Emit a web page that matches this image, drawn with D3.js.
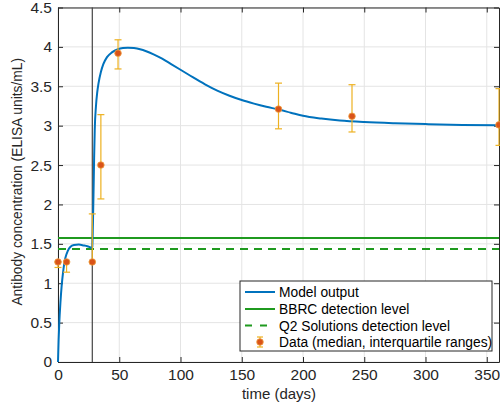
<!DOCTYPE html>
<html>
<head>
<meta charset="utf-8">
<script src="https://cdn.jsdelivr.net/npm/d3@7"></script>
<style>
  body { margin: 0; background: #fff; }
  text { font-family: "Liberation Sans", Arial, sans-serif; }
</style>
</head>
<body>
<div id="chart-area"></div>
<script>
// model curve (time in days, antibody conc.)
var modelTime = [0, 0.5, 1, 2, 3, 4, 5, 6, 8, 10, 13, 17, 21, 24, 27.6,
                 28, 28.5, 29, 29.5, 30, 31, 32, 33, 35, 37, 40, 44, 49, 53, 57,
                 62, 67, 72, 78, 85, 92, 100, 110, 120, 130, 140, 150, 160, 170, 180,
                 190, 200, 215, 230, 250, 275, 300, 330, 360];
var modelConc = [0, 0.28, 0.48, 0.76, 0.97, 1.12, 1.24, 1.32, 1.41, 1.46, 1.485, 1.49, 1.48, 1.47, 1.45,
                 1.46, 1.75, 2.15, 2.6, 2.95, 3.25, 3.42, 3.53, 3.68, 3.78, 3.87, 3.93, 3.97, 3.985, 3.99,
                 3.985, 3.97, 3.945, 3.905, 3.85, 3.785, 3.71, 3.615, 3.525, 3.445, 3.38, 3.325, 3.28, 3.24, 3.205,
                 3.165, 3.125, 3.09, 3.065, 3.045, 3.03, 3.02, 3.01, 3.005];

// data: median and interquartile range
var dataTime = [0, 7, 28, 35, 49, 180, 240, 360];
var dataMedian = [1.27, 1.27, 1.27, 2.5, 3.92, 3.21, 3.12, 3.01];
var dataQ1 = [1.2, 1.14, 1.27, 2.07, 3.72, 2.96, 2.92, 2.75];
var dataQ3 = [1.27, 1.27, 1.88, 3.14, 4.09, 3.54, 3.52, 3.47];

var bbrcLevel = 1.573;
var q2Level = 1.433;
var doseTime = 28;

var xTicks = [0, 50, 100, 150, 200, 250, 300, 350];
var yTicks = [0, 0.5, 1, 1.5, 2, 2.5, 3, 3.5, 4, 4.5];

var legendLabels = ["Model output", "BBRC detection level",
                    "Q2 Solutions detection level", "Data (median, interquartile ranges)"];

var margin = {left: 58, right: 1, top: 7.5, bottom: 50};
var width = 500 - margin.left - margin.right,
    height = 412 - margin.top - margin.bottom;

var blue = "#0072BD", green = "#1f9a1f", orange = "#D95319", yellow = "#EDB120";

var svg = d3.select("#chart-area")
    .append("svg")
      .attr("width", 500)
      .attr("height", 412);

var group = svg.append("g")
    .attr("transform", "translate(" + margin.left + "," + margin.top + ")");

var x = d3.scaleLinear().domain([0, 360]).range([0, width]);
var y = d3.scaleLinear().domain([0, 4.5]).range([height, 0]);

// grid
group.selectAll(".xgrid").data(xTicks).enter()
  .append("line")
    .attr("x1", function(d){ return x(d); })
    .attr("x2", function(d){ return x(d); })
    .attr("y1", 0).attr("y2", height)
    .attr("stroke", "#e4e4e4");
group.selectAll(".ygrid").data(yTicks).enter()
  .append("line")
    .attr("y1", function(d){ return y(d); })
    .attr("y2", function(d){ return y(d); })
    .attr("x1", 0).attr("x2", width)
    .attr("stroke", "#e4e4e4");

// axes
var xAxisCall = d3.axisBottom(x).tickValues(xTicks).tickSizeInner(-5).tickSizeOuter(0).tickPadding(7);
group.append("g")
    .attr("class", "x axis")
    .attr("transform", "translate(0," + height + ")")
    .call(xAxisCall);
group.append("g")
    .attr("class", "x axis")
    .call(d3.axisTop(x).tickValues(xTicks).tickSizeInner(-5).tickSizeOuter(0).tickFormat(""));

var yAxisCall = d3.axisLeft(y).tickValues(yTicks).tickSizeInner(-5).tickSizeOuter(0).tickPadding(6)
    .tickFormat(function(d){ return d; });
group.append("g")
    .attr("class", "y axis")
    .call(yAxisCall);
group.append("g")
    .attr("class", "y axis")
    .attr("transform", "translate(" + width + ",0)")
    .call(d3.axisRight(y).tickValues(yTicks).tickSizeInner(-5).tickSizeOuter(0).tickFormat(""));

group.selectAll(".axis path").attr("stroke", "#262626");
group.selectAll(".axis line").attr("stroke", "#262626");
group.selectAll(".axis text")
    .attr("font-size", "15.5px")
    .attr("fill", "#262626");

// labels
group.append("text")
    .attr("x", width / 2 + 0.5)
    .attr("y", height + 37)
    .attr("font-size", "15px")
    .attr("text-anchor", "middle")
    .attr("fill", "#262626")
    .text("time (days)");
group.append("text")
    .attr("x", -(height / 2) + 3)
    .attr("y", -36)
    .attr("font-size", "13.8px")
    .attr("text-anchor", "middle")
    .attr("fill", "#262626")
    .attr("transform", "rotate(-90)")
    .text("Antibody concentration (ELISA units/mL)");

// detection levels
group.append("line")
    .attr("x1", 0).attr("x2", width)
    .attr("y1", y(bbrcLevel)).attr("y2", y(bbrcLevel))
    .attr("stroke", green).attr("stroke-width", 2);
group.append("line")
    .attr("x1", 0).attr("x2", width)
    .attr("y1", y(q2Level)).attr("y2", y(q2Level))
    .attr("stroke", green).attr("stroke-width", 2)
    .attr("stroke-dasharray", "8,6");

// second dose marker
group.append("line")
    .attr("x1", x(doseTime)).attr("x2", x(doseTime))
    .attr("y1", 0).attr("y2", height)
    .attr("stroke", "#444").attr("stroke-width", 1.2);

// model curve
var line = d3.line()
    .x(function(d){ return x(d[0]); })
    .y(function(d){ return y(d[1]); })
    .curve(d3.curveMonotoneX);
group.append("path")
    .datum(d3.zip(modelTime, modelConc))
    .attr("d", line)
    .attr("fill", "none")
    .attr("stroke", blue)
    .attr("stroke-width", 2);

// data with error bars
var pts = dataTime.map(function(t, i){
  return {t: t, m: dataMedian[i], lo: dataQ1[i], hi: dataQ3[i]};
});
var eb = group.selectAll(".eb").data(pts).enter().append("g");
eb.append("line")
    .attr("x1", function(d){ return x(d.t); })
    .attr("x2", function(d){ return x(d.t); })
    .attr("y1", function(d){ return y(d.lo); })
    .attr("y2", function(d){ return y(d.hi); })
    .attr("stroke", yellow).attr("stroke-width", 1.2);
eb.append("line")
    .attr("x1", function(d){ return x(d.t) - 3.5; })
    .attr("x2", function(d){ return x(d.t) + 3.5; })
    .attr("y1", function(d){ return y(d.lo); })
    .attr("y2", function(d){ return y(d.lo); })
    .attr("stroke", yellow).attr("stroke-width", 1.2);
eb.append("line")
    .attr("x1", function(d){ return x(d.t) - 3.5; })
    .attr("x2", function(d){ return x(d.t) + 3.5; })
    .attr("y1", function(d){ return y(d.hi); })
    .attr("y2", function(d){ return y(d.hi); })
    .attr("stroke", yellow).attr("stroke-width", 1.2);
eb.append("circle")
    .attr("cx", function(d){ return x(d.t); })
    .attr("cy", function(d){ return y(d.m); })
    .attr("r", 3.3)
    .attr("fill", orange)
    .attr("stroke", "#f0a040")
    .attr("stroke-width", 0.8);

// legend
var lg = svg.append("g").attr("transform", "translate(240,281)");
lg.append("rect")
    .attr("width", 252).attr("height", 70)
    .attr("fill", "#fff").attr("stroke", "#262626").attr("stroke-width", 1);
var rowY = [11, 28, 44.5, 61];
lg.selectAll(".lt").data(legendLabels).enter()
  .append("text")
    .attr("x", 39)
    .attr("y", function(d, i){ return rowY[i] + 5; })
    .attr("font-size", "13.8px")
    .attr("fill", "#000")
    .text(function(d){ return d; });
lg.append("line").attr("x1", 5).attr("x2", 35).attr("y1", rowY[0]).attr("y2", rowY[0])
    .attr("stroke", blue).attr("stroke-width", 2);
lg.append("line").attr("x1", 5).attr("x2", 35).attr("y1", rowY[1]).attr("y2", rowY[1])
    .attr("stroke", green).attr("stroke-width", 2);
lg.append("line").attr("x1", 5).attr("x2", 35).attr("y1", rowY[2]).attr("y2", rowY[2])
    .attr("stroke", green).attr("stroke-width", 2).attr("stroke-dasharray", "7,8");
lg.append("line").attr("x1", 20).attr("x2", 20).attr("y1", rowY[3] - 5).attr("y2", rowY[3] + 5)
    .attr("stroke", yellow).attr("stroke-width", 1.2);
lg.append("line").attr("x1", 17).attr("x2", 23).attr("y1", rowY[3] - 5).attr("y2", rowY[3] - 5)
    .attr("stroke", yellow).attr("stroke-width", 1.2);
lg.append("line").attr("x1", 17).attr("x2", 23).attr("y1", rowY[3] + 5).attr("y2", rowY[3] + 5)
    .attr("stroke", yellow).attr("stroke-width", 1.2);
lg.append("circle").attr("cx", 20).attr("cy", rowY[3]).attr("r", 3.3)
    .attr("fill", orange).attr("stroke", "#f0a040").attr("stroke-width", 0.8);
</script>
</body>
</html>
